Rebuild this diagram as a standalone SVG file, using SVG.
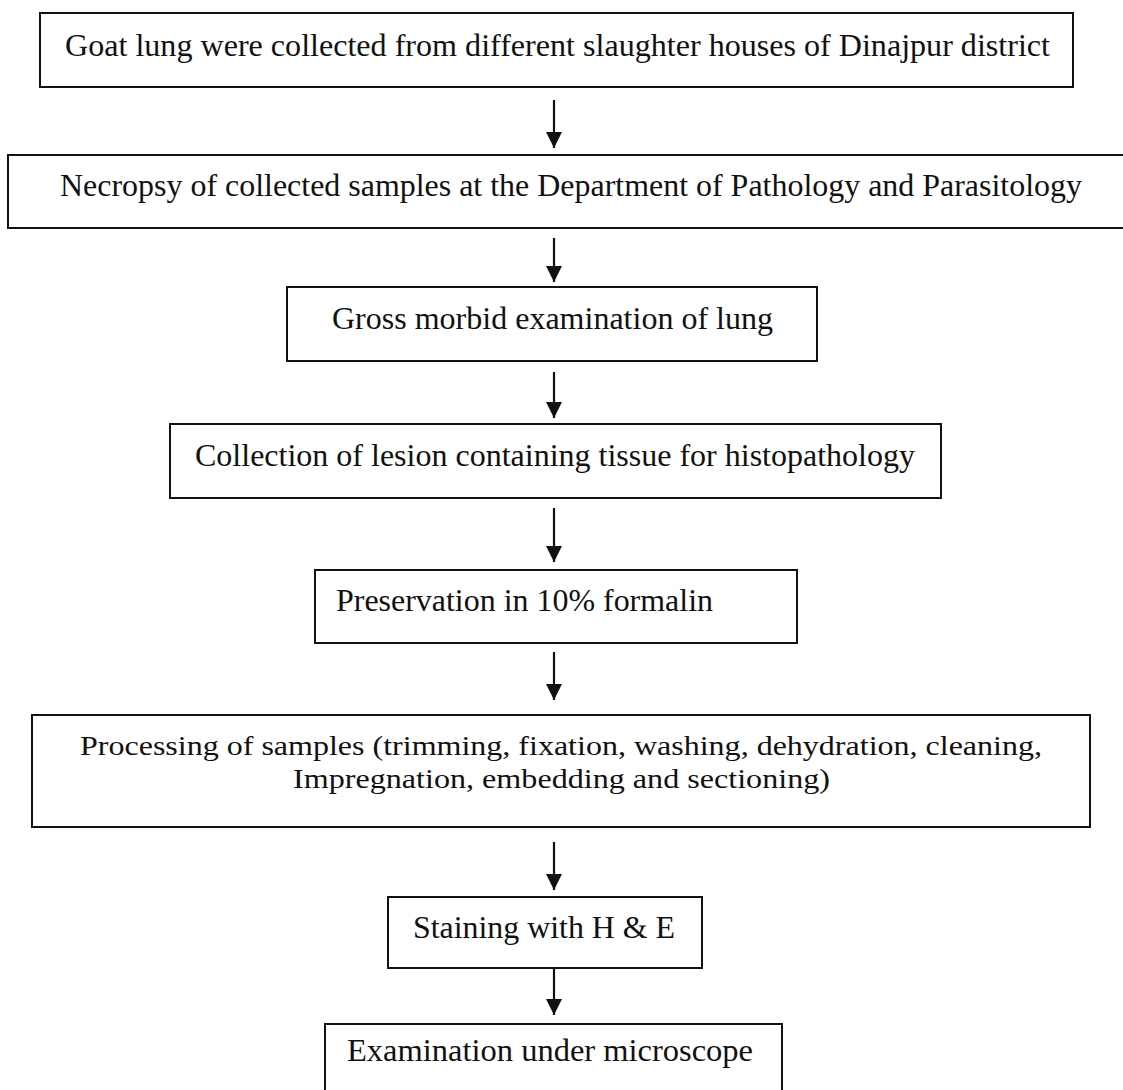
<svg xmlns="http://www.w3.org/2000/svg" width="1123" height="1090" viewBox="0 0 1123 1090">
<style>
.box{fill:#fff;stroke:#111;stroke-width:2}
.t{font-family:"Liberation Serif","Times New Roman",Times,serif;font-size:32px;fill:#111}
.s{font-size:28px}
.c{stroke:#111;stroke-width:2.2;fill:none}
</style>
<defs>
<marker id="ah" markerUnits="userSpaceOnUse" markerWidth="16" markerHeight="18" refX="16" refY="8" orient="auto">
<path d="M0,0 L16,8 L0,16 Z" fill="#111"/>
</marker>
</defs>
<rect width="1123" height="1090" fill="#fff"/>
<g id="connectors">
<line class="c" x1="554" y1="100" x2="554" y2="148" marker-end="url(#ah)"/>
<line class="c" x1="554" y1="238" x2="554" y2="282" marker-end="url(#ah)"/>
<line class="c" x1="554" y1="372" x2="554" y2="418" marker-end="url(#ah)"/>
<line class="c" x1="554" y1="508" x2="554" y2="562" marker-end="url(#ah)"/>
<line class="c" x1="554" y1="652" x2="554" y2="700" marker-end="url(#ah)"/>
<line class="c" x1="554" y1="842" x2="554" y2="890" marker-end="url(#ah)"/>
<line class="c" x1="554" y1="968" x2="554" y2="1015" marker-end="url(#ah)"/>
</g>
<g id="n1">
<rect class="box" x="40" y="13" width="1033" height="74"/>
<text class="t" x="65" y="56" textLength="985" lengthAdjust="spacingAndGlyphs">Goat lung were collected from different slaughter houses of Dinajpur district</text>
</g>
<g id="n2">
<rect class="box" x="8" y="155" width="1125" height="73"/>
<text class="t" x="60" y="196" textLength="1022" lengthAdjust="spacingAndGlyphs">Necropsy of collected samples at the Department of Pathology and Parasitology</text>
</g>
<g id="n3">
<rect class="box" x="287" y="287" width="530" height="74"/>
<text class="t" x="332" y="329" textLength="441" lengthAdjust="spacingAndGlyphs">Gross morbid examination of lung</text>
</g>
<g id="n4">
<rect class="box" x="170" y="424" width="771" height="74"/>
<text class="t" x="195" y="466" textLength="720" lengthAdjust="spacingAndGlyphs">Collection of lesion containing tissue for histopathology</text>
</g>
<g id="n5">
<rect class="box" x="315" y="570" width="482" height="73"/>
<text class="t" x="336" y="611" textLength="377" lengthAdjust="spacingAndGlyphs">Preservation in 10% formalin</text>
</g>
<g id="n6">
<rect class="box" x="32" y="715" width="1058" height="112"/>
<text class="t s" x="80" y="755" textLength="962" lengthAdjust="spacingAndGlyphs">Processing of samples (trimming, fixation, washing, dehydration, cleaning,</text>
<text class="t s" x="293" y="788" textLength="537" lengthAdjust="spacingAndGlyphs">Impregnation, embedding and sectioning)</text>
</g>
<g id="n7">
<rect class="box" x="388" y="897" width="314" height="71"/>
<text class="t" x="413" y="938" textLength="262" lengthAdjust="spacingAndGlyphs">Staining with H &amp; E</text>
</g>
<g id="n8">
<rect class="box" x="325" y="1024" width="457" height="80"/>
<text class="t" x="347" y="1061" textLength="406" lengthAdjust="spacingAndGlyphs">Examination under microscope</text>
</g>
</svg>
